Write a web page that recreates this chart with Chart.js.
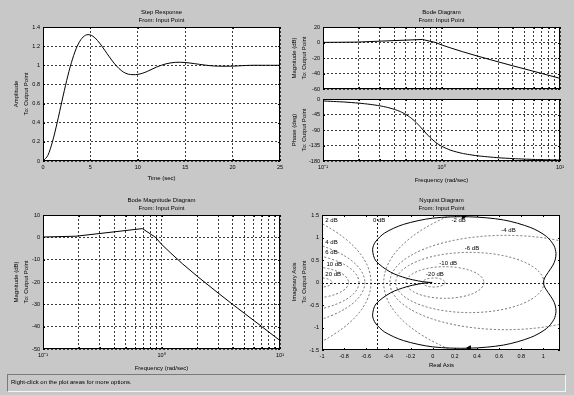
<!DOCTYPE html>
<html><head><meta charset="utf-8">
<script src="https://cdn.jsdelivr.net/npm/chart.js@4/dist/chart.umd.min.js"></script>
<style>
html,body{margin:0;padding:0;}
body{width:574px;height:395px;background:#c8c8c8;position:relative;overflow:hidden;font-family:"Liberation Sans",Arial,sans-serif;color:#000;}
canvas{position:absolute;left:0;top:0;}
.t{position:absolute;font-size:6px;white-space:nowrap;transform:translate(-50%,-50%);line-height:1;}
.v{position:absolute;font-size:6px;white-space:nowrap;transform:translate(-50%,-50%) rotate(-90deg);line-height:1;}
#status{position:absolute;left:7px;top:374px;width:559px;height:18px;box-sizing:border-box;border:1px solid;border-color:#7a7a7a #f4f4f4 #f4f4f4 #7a7a7a;}
#status span{position:absolute;left:3px;top:4px;font-size:6px;white-space:nowrap;}
</style></head>
<body>
<canvas id="cStep" width="574" height="395"></canvas>
<canvas id="cMag" width="574" height="395"></canvas>
<canvas id="cPhase" width="574" height="395"></canvas>
<canvas id="cMag2" width="574" height="395"></canvas>
<canvas id="cNyq" width="574" height="395"></canvas>

<div class="t" style="left:161.5px;top:12px">Step Response</div>
<div class="t" style="left:161.5px;top:20px">From: Input Point</div>
<div class="v" style="left:16px;top:94px">Amplitude</div>
<div class="v" style="left:26px;top:94px">To: Output Point</div>
<div class="t" style="left:161.5px;top:178px">Time (sec)</div>

<div class="t" style="left:441.5px;top:12px">Bode Diagram</div>
<div class="t" style="left:441.5px;top:20px">From: Input Point</div>
<div class="v" style="left:294px;top:58px">Magnitude (dB)</div>
<div class="v" style="left:304px;top:58px">To: Output Point</div>
<div class="v" style="left:294px;top:130px">Phase (deg)</div>
<div class="v" style="left:304px;top:130px">To: Output Point</div>
<div class="t" style="left:441.5px;top:180px">Frequency (rad/sec)</div>

<div class="t" style="left:161.5px;top:200px">Bode Magnitude Diagram</div>
<div class="t" style="left:161.5px;top:208px">From: Input Point</div>
<div class="v" style="left:16px;top:282px">Magnitude (dB)</div>
<div class="v" style="left:26px;top:282px">To: Output Point</div>
<div class="t" style="left:161.5px;top:368px">Frequency (rad/sec)</div>

<div class="t" style="left:441.5px;top:200px">Nyquist Diagram</div>
<div class="t" style="left:441.5px;top:208px">From: Input Point</div>
<div class="v" style="left:294px;top:282px">Imaginary Axis</div>
<div class="v" style="left:304px;top:282px">To: Output Point</div>
<div class="t" style="left:441.5px;top:365px">Real Axis</div>

<div id="status"><span>Right-click on the plot areas for more options.</span></div>

<script>
// ---------------- data ----------------
const stepTime = [0,0.5,1,1.5,2,2.5,3,3.5,4,4.5,5,5.5,6,6.5,7,7.5,8,8.5,9,9.5,10,10.5,11,12,13,14,15,16,17,18,19,20,21,22,23,24,25];
const stepAmp  = [0,0.056,0.202,0.403,0.626,0.842,1.029,1.174,1.269,1.315,1.317,1.285,1.228,1.159,1.088,1.022,0.968,0.928,0.907,0.902,0.905,0.917,0.936,0.982,1.016,1.031,1.029,1.017,1.003,0.993,0.99,0.991,0.996,1,1,1,1];
const stepTimeTicks = [0,5,10,15,20,25];
const stepAmpTicks  = [0,0.2,0.4,0.6,0.8,1,1.2,1.4];

const magFreq = [0.1,0.19,0.69,0.89,1,1.2,1.5,2,3,4,5,6,7,8,10];
const magDb   = [0.15,0.5,3.9,0,-3.1,-7.1,-11.8,-17.4,-24.9,-30.1,-34.0,-37.2,-39.9,-42.3,-46.2];

const phaseFreq = [0.1,0.15,0.2,0.25,0.3,0.35,0.4,0.45,0.5,0.55,0.6,0.65,0.7,0.75,0.8,0.9,1,1.2,1.5,2,3,4,5,6,7,8,10];
const phaseDeg  = [-5.7,-8.7,-12,-15.6,-19.6,-24.4,-30,-36.7,-44.8,-54.4,-65.5,-77.7,-90,-101.5,-111.5,-126.8,-137,-149,-157.9,-164.8,-170.5,-173,-174.5,-175.4,-176.1,-176.6,-177.3];

const freqTicks = [0.1,0.2,0.3,0.4,0.5,0.6,0.7,0.8,0.9,1,2,3,4,5,6,7,8,9,10];
const freqMajor = [0.1,1,10];
const freqMajorLabels = ['10\u207B\u00B9','10\u2070','10\u00B9'];
const magTicks   = [-60,-40,-20,0,20];
const phaseTicks = [-180,-135,-90,-45,0];
const mag2Ticks  = [-50,-40,-30,-20,-10,0,10];

const nyqRe = [-0.005,-0.02,-0.056,-0.13,-0.239,-0.379,-0.513,-0.543,-0.518,-0.434,-0.265,0,0.33,0.64,0.886,1.029,1.096,1.114,1.106,1.087,1.042,1.011,1,1.011,1.042,1.087,1.106,1.114,1.096,1.029,0.886,0.64,0.33,0,-0.265,-0.434,-0.518,-0.543,-0.513,-0.379,-0.239,-0.13,-0.056,-0.02,-0.005];
const nyqIm = [0.0003,0.002,0.009,0.035,0.097,0.228,0.479,0.727,0.9,1.1,1.29,1.43,1.46,1.39,1.22,1.021,0.817,0.643,0.501,0.388,0.221,0.1,0,-0.1,-0.221,-0.388,-0.501,-0.643,-0.817,-1.021,-1.22,-1.39,-1.46,-1.43,-1.29,-1.1,-0.9,-0.727,-0.479,-0.228,-0.097,-0.035,-0.009,-0.002,-0.0003];
const arrowRe  = [0.28,0.33];
const arrowIm  = [1.47,-1.455];
const arrowRot = [90,-90];
const nyqReTicks = [-1,-0.8,-0.6,-0.4,-0.2,0,0.2,0.4,0.6,0.8,1];
const nyqImTicks = [-1.5,-1,-0.5,0,0.5,1,1.5];

const mCircleDb = [-20,-10,-6,-4,-2,2,4,6,10,20];
const mLabelText = ['2 dB','0 dB','-2 dB','-4 dB','4 dB','6 dB','-6 dB','10 dB','-10 dB','20 dB','-20 dB'];
const mLabelRe   = [-0.97,-0.54,0.17,0.62,-0.97,-0.97,0.29,-0.96,0.06,-0.97,-0.06];
const mLabelIm   = [1.38,1.38,1.38,1.15,0.9,0.66,0.75,0.41,0.43,0.18,0.18];

// ---------------- helpers ----------------
const W = 574, H = 395;
Chart.defaults.font.family = '"Liberation Sans", Arial, sans-serif';
Chart.defaults.color = '#000';

const whiteBg = {
  id: 'whiteBg',
  beforeDraw(chart) {
    const {ctx, chartArea: a} = chart;
    ctx.save();
    ctx.fillStyle = '#ffffff';
    ctx.fillRect(a.left, a.top, a.right - a.left, a.bottom - a.top);
    ctx.restore();
  }
};

const frame = {
  id: 'frame',
  afterDraw(chart) {
    const {ctx, chartArea: a} = chart;
    const xs = chart.scales.x, ys = chart.scales.y;
    ctx.save();
    ctx.strokeStyle = '#000';
    ctx.lineWidth = 1;
    ctx.setLineDash([]);
    ctx.beginPath();
    const tl = 2;
    xs.ticks.forEach(t => {
      const p = Math.round(xs.getPixelForValue(t.value)) + 0.5;
      ctx.moveTo(p, a.top); ctx.lineTo(p, a.top + tl);
      ctx.moveTo(p, a.bottom); ctx.lineTo(p, a.bottom - tl);
    });
    ys.ticks.forEach(t => {
      const p = Math.round(ys.getPixelForValue(t.value)) + 0.5;
      ctx.moveTo(a.left, p); ctx.lineTo(a.left + tl, p);
      ctx.moveTo(a.right, p); ctx.lineTo(a.right - tl, p);
    });
    ctx.stroke();
    ctx.strokeRect(a.left + 0.5, a.top + 0.5, a.right - a.left - 1, a.bottom - a.top - 1);
    ctx.restore();
  }
};

function axis(opts) {
  const {type, pos, min, max, ticks, labels, grid, labelFn, size} = opts;
  return {
    type, position: pos, min, max,
    afterBuildTicks: s => { s.ticks = ticks.map(v => ({value: v})); },
    afterFit: s => { if (pos === 'left') s.width = size; else s.height = size; },
    ticks: {
      display: labels, autoSkip: false, maxRotation: 0, minRotation: 0,
      padding: 3, color: '#000', font: {size: 5.5},
      callback: labelFn || (v => String(v))
    },
    grid: {display: grid !== false, color: '#3a3a3a', lineWidth: 1, drawTicks: false},
    border: {display: false, dash: [2, 2]}
  };
}
const logLabel = v => { const i = freqMajor.indexOf(v); return i >= 0 ? freqMajorLabels[i] : ''; };

function line(xs, ys, extra) {
  return Object.assign({
    data: xs.map((x, i) => ({x, y: ys[i]})),
    borderColor: '#000', borderWidth: 1, pointRadius: 0, fill: false, tension: 0
  }, extra || {});
}

// area = [left, top, right, bottom] of the plot box in page pixels
function makeChart(id, area, datasets, xOpts, yOpts, plugins) {
  xOpts.size = H - area[3];
  yOpts.size = area[0];
  return new Chart(document.getElementById(id), {
    type: 'line',
    data: {datasets},
    options: {
      responsive: false, animation: false, devicePixelRatio: 1, events: [],
      layout: {padding: {left: 0, top: area[1], right: W - area[2], bottom: 0}},
      plugins: {legend: {display: false}, tooltip: {enabled: false}, title: {display: false}},
      scales: {x: axis(xOpts), y: axis(yOpts)}
    },
    plugins: [whiteBg, frame].concat(plugins || [])
  });
}

// ---------------- step response ----------------
makeChart('cStep', [43, 27, 280, 161],
  [line(stepTime, stepAmp, {tension: 0.3})],
  {type: 'linear', pos: 'bottom', min: 0, max: 25, ticks: stepTimeTicks, labels: true},
  {type: 'linear', pos: 'left', min: 0, max: 1.4, ticks: stepAmpTicks, labels: true});

// ---------------- bode (mag + phase) ----------------
makeChart('cMag', [323, 27, 560, 89],
  [line(magFreq, magDb)],
  {type: 'logarithmic', pos: 'bottom', min: 0.1, max: 10, ticks: freqTicks, labels: false, labelFn: logLabel},
  {type: 'linear', pos: 'left', min: -60, max: 20, ticks: magTicks, labels: true});
makeChart('cPhase', [323, 99, 560, 161],
  [line(phaseFreq, phaseDeg, {tension: 0.2})],
  {type: 'logarithmic', pos: 'bottom', min: 0.1, max: 10, ticks: freqTicks, labels: true, labelFn: logLabel},
  {type: 'linear', pos: 'left', min: -180, max: 0, ticks: phaseTicks, labels: true});

// ---------------- bode magnitude ----------------
makeChart('cMag2', [43, 215, 280, 349],
  [line(magFreq, magDb)],
  {type: 'logarithmic', pos: 'bottom', min: 0.1, max: 10, ticks: freqTicks, labels: true, labelFn: logLabel},
  {type: 'linear', pos: 'left', min: -50, max: 10, ticks: mag2Ticks, labels: true});

// ---------------- nyquist ----------------
const mGrid = {
  id: 'mgrid',
  beforeDatasetsDraw(chart) {
    const {ctx, chartArea: a} = chart;
    const xs = chart.scales.x, ys = chart.scales.y;
    ctx.save();
    ctx.beginPath();
    ctx.rect(a.left, a.top, a.right - a.left, a.bottom - a.top);
    ctx.clip();
    ctx.lineWidth = 1;
    ctx.setLineDash([2, 2]);
    ctx.strokeStyle = '#6e6e6e';
    mCircleDb.forEach(db => {
      const M = Math.pow(10, db / 20);
      const c = M * M / (1 - M * M);
      const r = Math.abs(M / (1 - M * M));
      const cx = xs.getPixelForValue(c), cy = ys.getPixelForValue(0);
      const rx = Math.abs(xs.getPixelForValue(c + r) - cx);
      const ry = Math.abs(ys.getPixelForValue(r) - cy);
      ctx.beginPath();
      ctx.ellipse(cx, cy, rx, ry, 0, 0, Math.PI * 2);
      ctx.stroke();
    });
    ctx.strokeStyle = '#1a1a1a';
    const y0 = Math.round(ys.getPixelForValue(0)) + 0.5;
    const x0 = Math.round(xs.getPixelForValue(-0.5)) + 0.5;
    ctx.beginPath();
    ctx.moveTo(a.left, y0); ctx.lineTo(a.right, y0);
    ctx.moveTo(x0, a.top); ctx.lineTo(x0, a.bottom);
    ctx.stroke();
    ctx.setLineDash([]);
    ctx.fillStyle = '#000';
    ctx.font = '6px "Liberation Sans", Arial, sans-serif';
    ctx.textAlign = 'left';
    ctx.textBaseline = 'middle';
    mLabelText.forEach((s, i) => {
      ctx.fillText(s, xs.getPixelForValue(mLabelRe[i]), ys.getPixelForValue(mLabelIm[i]));
    });
    ctx.restore();
  }
};
makeChart('cNyq', [322, 215, 560, 350],
  [
    line(nyqRe, nyqIm, {tension: 0.3}),
    {
      data: arrowRe.map((x, i) => ({x, y: arrowIm[i]})),
      showLine: false, pointStyle: 'triangle', pointRadius: 2.5,
      rotation: arrowRot, backgroundColor: '#000', borderColor: '#000', borderWidth: 1
    }
  ],
  {type: 'linear', pos: 'bottom', min: -1, max: 1.15, ticks: nyqReTicks, labels: true, grid: false},
  {type: 'linear', pos: 'left', min: -1.5, max: 1.5, ticks: nyqImTicks, labels: true, grid: false},
  [mGrid]);
</script>
</body></html>
